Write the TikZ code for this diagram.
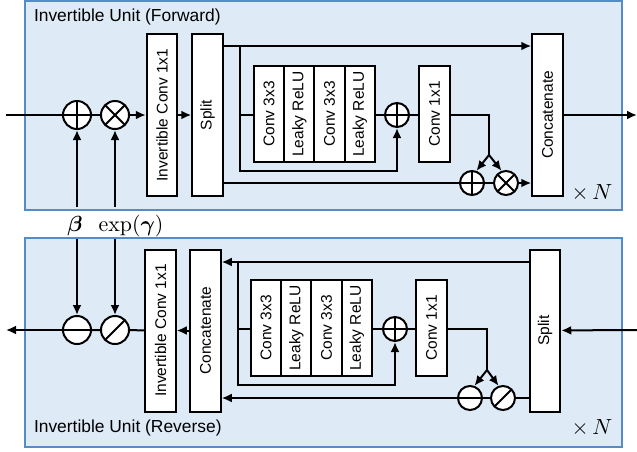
\documentclass[tikz,border=0pt]{standalone}
\usepackage{amsmath, amssymb}
\usepackage{graphicx}
\usepackage[no-math]{fontspec}
\setmainfont{Liberation Sans}
\usepackage{tikz}
\usetikzlibrary{arrows.meta}
\definecolor{panelfill}{RGB}{222,235,247}
\definecolor{paneldraw}{RGB}{84,140,200}

\begin{document}
\begin{tikzpicture}[x=0.5pt, y=-0.5pt, line width=1pt, >={Latex[length=5pt,width=4.5pt]},
    panel/.style={draw=paneldraw, fill=panelfill, line width=0.8pt},
    ttl/.style={anchor=west, inner sep=0pt, font=\fontsize{8.7}{10}\selectfont},
    lbl/.style={inner sep=0pt, font=\fontsize{10.5}{12}\selectfont},
    boxtall/.style={draw, fill=white, inner sep=0pt, minimum width=15.25pt, minimum height=81pt, font=\fontsize{7.75}{9}\selectfont},
    boxnet/.style={draw, fill=white, inner sep=0pt, minimum width=15.125pt, minimum height=48pt, font=\fontsize{7.75}{9}\selectfont},
    op/.style={circle, draw, fill=white, inner sep=0pt, minimum size=14pt},
    opsmall/.style={op, minimum size=12pt},
    plus/.style={path picture={\draw (path picture bounding box.north) -- (path picture bounding box.south)
        (path picture bounding box.west) -- (path picture bounding box.east);}},
    minus/.style={path picture={\draw (path picture bounding box.west) -- (path picture bounding box.east);}},
    times/.style={path picture={\draw (path picture bounding box.north west) -- (path picture bounding box.south east)
        (path picture bounding box.south west) -- (path picture bounding box.north east);}},
    divide/.style={path picture={\draw (path picture bounding box.south west) -- (path picture bounding box.north east);}}]
    \useasboundingbox (0,0) rectangle (637,451);

    % forward unit
    \draw[panel] (25,1) rectangle (622,210);
    \node[ttl] (title1) at (33,17) {Invertible Unit (Forward)};
    \node[lbl] (rep1) at (592,193) {$\times\,N$};

    \coordinate (in1) at (6,115);
    \coordinate (out1) at (637,115);
    \coordinate (t1) at (240,46);
    \coordinate (u1) at (240,171);
    \coordinate (sp1) at (489,155);
    \coordinate (beta1) at (77,207);
    \coordinate (gam1) at (115,207);

    \node[op, plus] (add1) at (77,115) {};
    \node[op, times] (mul1) at (115,115) {};
    \node[boxtall] (inv1) at (162,115) {\rotatebox{90}{Invertible Conv 1x1}};
    \node[boxtall] (split1) at (207.5,115) {\rotatebox{90}{Split}};
    \node[boxtall] (cat1) at (547.5,115) {\rotatebox{90}{Concatenate}};
    \foreach \i/\x/\t in {1/269.1/Conv 3x3, 2/299.4/Leaky ReLU, 3/329.6/Conv 3x3, 4/359.9/Leaky ReLU} {
        \node[boxnet] (f\i) at (\x,114) {\rotatebox{90}{\t}};
    }
    \node[opsmall, plus] (addr1) at (397,115) {};
    \node[boxnet] (c1) at (434.5,114) {\rotatebox{90}{Conv 1x1}};
    \node[opsmall, plus] (addb1) at (472,183) {};
    \node[opsmall, times] (mulb1) at (506,183) {};

    \draw (in1) -- (add1) -- (mul1);
    \draw[->] (mul1) -- (inv1);
    \draw[->] (inv1) -- (split1);
    \draw[->] (split1.east |- t1) -- (cat1.west |- t1);
    \draw[->] (t1) -- (u1) -| (addr1.south);
    \draw (t1 |- addr1) -- (f1.west |- addr1);
    \draw (f4.east |- addr1) -- (addr1) -- (c1.west |- addr1);
    \draw (c1.east |- addr1) -| (sp1);
    \draw[->] (sp1) -- (addb1.70);
    \draw[->] (sp1) -- (mulb1.110);
    \draw (split1.east |- addb1) -- (addb1) -- (mulb1);
    \draw[->] (mulb1) -- (cat1.west |- mulb1);
    \draw[->] (cat1) -- (out1);

    % shared parameters
    \node[lbl] (beta) at (75,226) {$\boldsymbol{\beta}$};
    \node[lbl] (expg) at (131,226) {$\exp(\boldsymbol{\gamma})$};
    \draw[->] (beta1) -- (add1);
    \draw[->] (gam1) -- (mul1);

    % reverse unit
    \draw[panel] (25,238) rectangle (622,447);
    \node[ttl] (title2) at (33,428) {Invertible Unit (Reverse)};
    \node[lbl] (rep2) at (592,428) {$\times\,N$};

    \coordinate (in2) at (637,330);
    \coordinate (out2) at (6,330);
    \coordinate (t2) at (238,262);
    \coordinate (u2) at (238,385);
    \coordinate (sp2) at (487,370);
    \coordinate (beta2) at (77,239);
    \coordinate (gam2) at (115,239);

    \node[op, minus] (sub1) at (77,330) {};
    \node[op, divide] (div1) at (115,330) {};
    \node[boxtall] (inv2) at (160.5,330.5) {\rotatebox{90}{Invertible Conv 1x1}};
    \node[boxtall] (cat2) at (205.5,330.5) {\rotatebox{90}{Concatenate}};
    \node[boxtall] (split2) at (545,330.5) {\rotatebox{90}{Split}};
    \foreach \i/\x/\t in {1/266.1/Conv 3x3, 2/296.4/Leaky ReLU, 3/326.6/Conv 3x3, 4/356.9/Leaky ReLU} {
        \node[boxnet] (g\i) at (\x,328) {\rotatebox{90}{\t}};
    }
    \node[opsmall, plus] (addr2) at (395,329) {};
    \node[boxnet] (c2) at (431.5,328) {\rotatebox{90}{Conv 1x1}};
    \node[opsmall, minus] (sub2) at (470,398) {};
    \node[opsmall, divide] (div2) at (503,398) {};

    \draw[->] (in2) -- (split2);
    \draw[->] (split2.west |- t2) -- (cat2.east |- t2);
    \draw[->] (t2) -- (u2) -| (addr2.south);
    \draw (t2 |- addr2) -- (g1.west |- addr2);
    \draw (g4.east |- addr2) -- (addr2) -- (c2.west |- addr2);
    \draw (c2.east |- addr2) -| (sp2);
    \draw[->] (sp2) -- (sub2.70);
    \draw[->] (sp2) -- (div2.110);
    \draw (split2.west |- div2) -- (div2) -- (sub2);
    \draw[->] (sub2) -- (cat2.east |- sub2);
    \draw[->] (cat2) -- (inv2);
    \draw (inv2) -- (div1) -- (sub1);
    \draw[->] (sub1) -- (out2);
    \draw[->] (beta2) -- (sub1);
    \draw[->] (gam2) -- (div1);
\end{tikzpicture}
\end{document}
